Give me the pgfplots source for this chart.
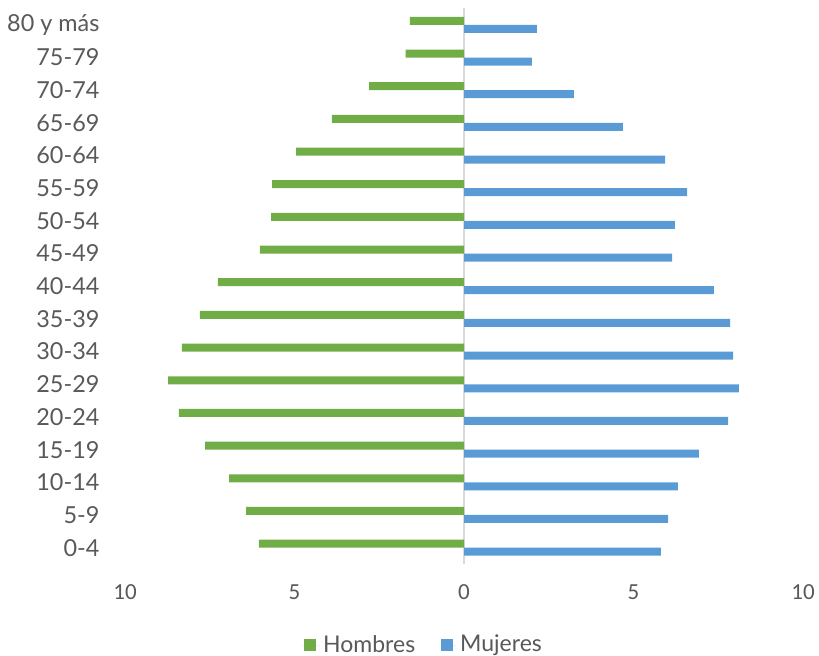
\documentclass[border=0pt]{standalone}
\usepackage{fontspec}
\setmainfont{Lato}
\newfontfamily\tickfont{Carlito}
\usepackage{pgfplots}
\pgfplotsset{compat=1.18}

\definecolor{hombres}{HTML}{70AD47}
\definecolor{mujeres}{HTML}{5B9BD5}
\definecolor{txt}{HTML}{595959}
\definecolor{axisgray}{HTML}{D9D9D9}

\begin{document}
\begin{tikzpicture}
\useasboundingbox (-62.5pt,-46pt) rectangle (347pt,282pt);
\begin{axis}[
    at={(0pt,0pt)}, anchor=south west,
    scale only axis,
    width=339pt, height=277.75pt,
    xbar, bar width=4pt,
    xmin=-10, xmax=10,
    ymin=-0.5, ymax=16.5,
    xtick={-10,-5,0,5,10},
    xticklabels={10,5,0,5,10},
    ytick={0,...,16},
    yticklabels={0-4,5-9,10-14,15-19,20-24,25-29,30-34,35-39,40-44,45-49,50-54,55-59,60-64,65-69,70-74,75-79,80 y más},
    axis line style={draw=none},
    tick style={draw=none},
    xticklabel style={font=\tickfont\fontsize{11.5}{13}\selectfont, text=txt, yshift=-7pt},
    yticklabel style={font=\fontsize{11.7}{14}\selectfont, text=txt, xshift=-5pt},
    extra x ticks={0}, extra x tick labels={},
    extra x tick style={grid=major, major grid style={draw=axisgray, line width=0.7pt}},
    legend style={at={(0.441,-0.146)}, anchor=center, draw=none, legend columns=-1,
        font=\fontsize{11.5}{13}\selectfont, text=txt,
        /tikz/every even column/.append style={column sep=10pt}},
    legend image code/.code={\fill (0pt,-3pt) rectangle (6pt,3pt);
        \path (-1pt,0pt) -- (7.5pt,0pt);},
]
\addplot[fill=hombres, draw=none, bar shift=2pt] coordinates {
    (-6.05,0) (-6.43,1) (-6.93,2) (-7.64,3) (-8.41,4) (-8.73,5) (-8.32,6) (-7.79,7)
    (-7.26,8) (-6.02,9) (-5.69,10) (-5.66,11) (-4.95,12) (-3.90,13) (-2.80,14) (-1.72,15) (-1.60,16)
};
\addplot[fill=mujeres, draw=none, bar shift=-2pt] coordinates {
    (5.81,0) (6.02,1) (6.31,2) (6.93,3) (7.79,4) (8.11,5) (7.94,6) (7.85,7)
    (7.37,8) (6.14,9) (6.22,10) (6.58,11) (5.93,12) (4.69,13) (3.24,14) (2.00,15) (2.15,16)
};
\legend{Hombres,Mujeres}
\end{axis}
\end{tikzpicture}
\end{document}
